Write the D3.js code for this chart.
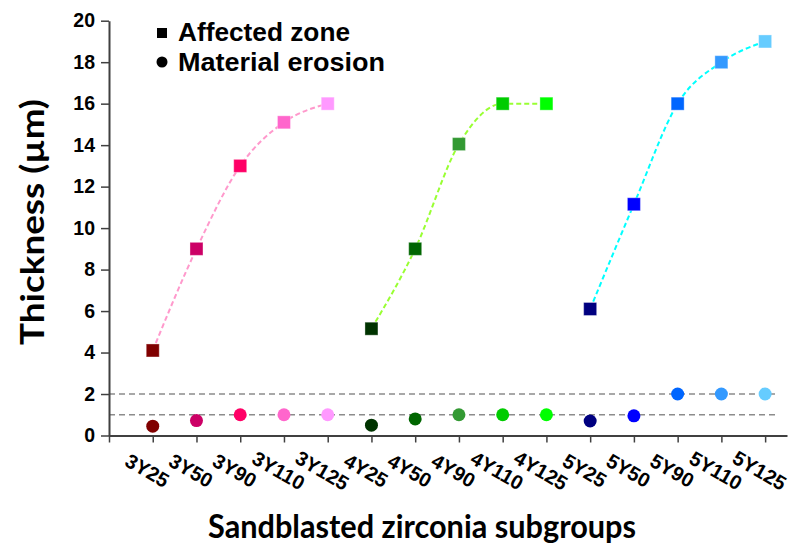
<!DOCTYPE html>
<html>
<head>
<meta charset="utf-8">
<script src="https://cdn.jsdelivr.net/npm/d3@7"></script>
<style>
  html, body { margin: 0; padding: 0; background: #fff; }
  svg { display: block; }
</style>
</head>
<body>
<svg id="chart" width="795" height="549"></svg>
<script>
// Subgroups along the x axis
const subgroups = ["3Y25", "3Y50", "3Y90", "3Y110", "3Y125",
                   "4Y25", "4Y50", "4Y90", "4Y110", "4Y125",
                   "5Y25", "5Y50", "5Y90", "5Y110", "5Y125"];

// Thickness of the affected zone (µm)
const affectedZone = [4.1, 9.0, 13.0, 15.1, 16.0,
                      5.15, 9.0, 14.05, 16.0, 16.0,
                      6.1, 11.15, 16.0, 18.0, 19.0];

// Thickness of material erosion (µm)
const materialErosion = [0.45, 0.72, 1.0, 1.0, 1.0,
                         0.5, 0.8, 1.0, 1.0, 1.0,
                         0.7, 0.95, 2.0, 2.0, 2.0];

// Marker colour for each subgroup
const markerColors = ["#800000", "#CC0066", "#FF0066", "#FF66CC", "#FF99FF",
                      "#003300", "#006600", "#339933", "#00CC00", "#00FF00",
                      "#000080", "#0000FF", "#0066FF", "#3399FF", "#66CCFF"];

// Zirconia families and the colour of their fitted curves
const families = ["3Y", "4Y", "5Y"];
const familyLineColors = ["#FF99CC", "#99FF33", "#00FFFF"];

// Horizontal reference levels (µm)
const referenceLevels = [1, 2];

const yTicks = [0, 2, 4, 6, 8, 10, 12, 14, 16, 18, 20];

const svg = d3.select("#chart");

const x = d3.scaleLinear().domain([0, 15.5]).range([109, 787]);
const y = d3.scaleLinear().domain([0, 20]).range([435.5, 20.7]);
const pos = i => x(i + 1);

const tickFont = "'Liberation Sans', Arial, sans-serif";
const axisColor = "#404040";

// Reference dashed lines
svg.append("g").selectAll("line")
  .data(referenceLevels)
  .join("line")
  .attr("x1", x(0)).attr("x2", x(15.3))
  .attr("y1", d => y(d)).attr("y2", d => y(d))
  .attr("stroke", "#8c8c8c")
  .attr("stroke-width", 1.3)
  .attr("stroke-dasharray", "6,4");

// Smoothed curves through the affected-zone values of each family
const line = d3.line()
  .x(d => pos(d.i))
  .y(d => y(d.v))
  .curve(d3.curveMonotoneX);

families.forEach((f, k) => {
  const pts = subgroups
    .map((s, i) => ({ s, i, v: affectedZone[i] }))
    .filter(d => d.s.startsWith(f));
  svg.append("path")
    .datum(pts)
    .attr("d", line)
    .attr("fill", "none")
    .attr("stroke", familyLineColors[k])
    .attr("stroke-width", 2)
    .attr("stroke-dasharray", "5,3");
});

// Axes
const yAxis = d3.axisLeft(y).tickValues(yTicks).tickSize(8).tickPadding(6).tickSizeOuter(0);
const gy = svg.append("g").attr("transform", `translate(${x(0)},0)`).call(yAxis);
gy.select(".domain").attr("stroke", axisColor).attr("stroke-width", 2);
gy.selectAll(".tick line").attr("stroke", axisColor).attr("stroke-width", 1.5);
gy.selectAll(".tick text")
  .attr("font-family", tickFont)
  .attr("font-weight", "bold")
  .attr("font-size", 19.5)
  .attr("fill", "#000");

const xAxis = d3.axisBottom(x)
  .tickValues(d3.range(0, 16))
  .tickSize(7)
  .tickSizeOuter(0)
  .tickFormat(() => "");
const gx = svg.append("g").attr("transform", `translate(0,${y(0)})`).call(xAxis);
gx.select(".domain").attr("stroke", axisColor).attr("stroke-width", 2);
gx.selectAll(".tick line").attr("stroke", axisColor).attr("stroke-width", 1.5);

// Rotated subgroup labels
svg.append("g").selectAll("text")
  .data(subgroups)
  .join("text")
  .attr("transform", (d, i) => `translate(${pos(i) - 5.5},${y(0) + 35}) rotate(30)`)
  .attr("text-anchor", "middle")
  .attr("dominant-baseline", "central")
  .attr("font-family", tickFont)
  .attr("font-weight", "bold")
  .attr("font-size", 20)
  .attr("fill", "#000")
  .text(d => d);

// Material erosion markers (circles)
svg.append("g").selectAll("circle")
  .data(materialErosion)
  .join("circle")
  .attr("cx", (d, i) => pos(i))
  .attr("cy", d => y(d))
  .attr("r", 6.5)
  .attr("fill", (d, i) => markerColors[i]);

// Affected zone markers (squares)
const sq = 13;
svg.append("g").selectAll("rect")
  .data(affectedZone)
  .join("rect")
  .attr("x", (d, i) => pos(i) - sq / 2)
  .attr("y", d => y(d) - sq / 2)
  .attr("width", sq)
  .attr("height", sq)
  .attr("fill", (d, i) => markerColors[i])
  .attr("stroke", "#ffffff")
  .attr("stroke-opacity", 0.35)
  .attr("stroke-width", 1);

// Legend
const legend = svg.append("g");
legend.append("rect")
  .attr("x", 157).attr("y", 28).attr("width", 10).attr("height", 10)
  .attr("fill", "#000");
legend.append("circle")
  .attr("cx", 162).attr("cy", 62).attr("r", 5.5)
  .attr("fill", "#000");
legend.append("text")
  .attr("x", 178).attr("y", 41)
  .attr("font-family", tickFont).attr("font-weight", "bold").attr("font-size", 25)
  .attr("textLength", 172).attr("lengthAdjust", "spacingAndGlyphs")
  .text("Affected zone");
legend.append("text")
  .attr("x", 178).attr("y", 71)
  .attr("font-family", tickFont).attr("font-weight", "bold").attr("font-size", 25)
  .attr("textLength", 207).attr("lengthAdjust", "spacingAndGlyphs")
  .text("Material erosion");

// Axis titles
svg.append("text")
  .attr("transform", "translate(44,222) rotate(-90)")
  .attr("text-anchor", "middle")
  .attr("font-family", "Lato, 'Open Sans', sans-serif")
  .attr("font-weight", "bold")
  .attr("font-size", 32)
  .attr("textLength", 246)
  .attr("lengthAdjust", "spacingAndGlyphs")
  .text("Thickness (µm)");

svg.append("text")
  .attr("x", 422).attr("y", 538)
  .attr("text-anchor", "middle")
  .attr("font-family", "Lato, 'Open Sans', sans-serif")
  .attr("font-weight", "bold")
  .attr("font-size", 32)
  .attr("textLength", 428)
  .attr("lengthAdjust", "spacingAndGlyphs")
  .text("Sandblasted zirconia subgroups");
</script>
</body>
</html>
